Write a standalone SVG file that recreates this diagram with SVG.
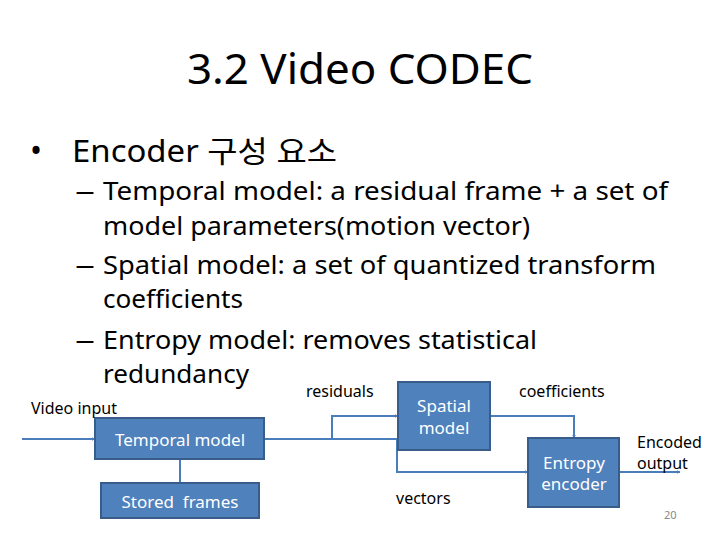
<svg xmlns="http://www.w3.org/2000/svg" width="720" height="540" viewBox="0 0 720 540">
<style>
text{font-family:"Noto Sans","Noto Sans CJK KR",sans-serif;fill:#000}
.t{font-size:24.8px}
.box{fill:#4F81BD;stroke:#385D8A;stroke-width:2}
.bt{font-size:17px;fill:#fff;text-anchor:middle}
.lb{font-size:16px}
.cn{fill:none;stroke:#4A7EBB;stroke-width:2}
</style>
<defs>
<marker id="ah" markerWidth="4" markerHeight="4" refX="3.5" refY="2" orient="auto" markerUnits="userSpaceOnUse">
<path d="M0,0 L4,2 L0,4 Z" fill="#4A7EBB"/>
</marker>
</defs>
<rect width="720" height="540" fill="#fff"/>
<text x="360" y="84" font-size="42" text-anchor="middle" textLength="346" lengthAdjust="spacingAndGlyphs">3.2 Video CODEC</text>
<text x="30" y="162" font-size="32">•</text>
<text x="72" y="162" font-size="30" textLength="265" lengthAdjust="spacingAndGlyphs">Encoder 구성 요소</text>
<text class="t" x="75" y="200" textLength="20" lengthAdjust="spacingAndGlyphs">–</text>
<text class="t" x="103" y="200" textLength="565" lengthAdjust="spacingAndGlyphs">Temporal model: a residual frame + a set of</text>
<text class="t" x="103" y="235" textLength="427" lengthAdjust="spacingAndGlyphs">model parameters(motion vector)</text>
<text class="t" x="75" y="274" textLength="20" lengthAdjust="spacingAndGlyphs">–</text>
<text class="t" x="103" y="274" textLength="553" lengthAdjust="spacingAndGlyphs">Spatial model: a set of quantized transform</text>
<text class="t" x="103" y="308" textLength="140" lengthAdjust="spacingAndGlyphs">coefficients</text>
<text class="t" x="75" y="349" textLength="20" lengthAdjust="spacingAndGlyphs">–</text>
<text class="t" x="103" y="349" textLength="434" lengthAdjust="spacingAndGlyphs">Entropy model: removes statistical</text>
<text class="t" x="103" y="383" textLength="146" lengthAdjust="spacingAndGlyphs">redundancy</text>
<g id="connectors">
<path class="cn" d="M22,439 H95" marker-end="url(#ah)"/>
<path class="cn" d="M180,459 V483"/>
<path class="cn" d="M264,439 H397 V472 H528" marker-end="url(#ah)"/>
<path class="cn" d="M332,439 V416 H398" marker-end="url(#ah)"/>
<path class="cn" d="M490,416 H574 V438" marker-end="url(#ah)"/>
<path class="cn" d="M619,472 H680" marker-end="url(#ah)"/>
</g>
<g id="temporal"><rect class="box" x="95" y="418" width="169" height="41"/><text class="bt" x="180" y="446">Temporal model</text></g>
<g id="stored"><rect class="box" x="101" y="483" width="158" height="35"/><text class="bt" x="180" y="508" xml:space="preserve">Stored  frames</text></g>
<g id="spatial"><rect class="box" x="398" y="382" width="92" height="68"/><text class="bt" x="444" y="412">Spatial</text><text class="bt" x="444" y="434">model</text></g>
<g id="entropy"><rect class="box" x="528" y="438" width="91" height="69"/><text class="bt" x="574" y="469">Entropy</text><text class="bt" x="574" y="490">encoder</text></g>
<text class="lb" x="31" y="414">Video input</text>
<text class="lb" x="306" y="397">residuals</text>
<text class="lb" x="519" y="397">coefficients</text>
<text class="lb" x="396" y="504">vectors</text>
<text class="lb" x="637" y="448">Encoded</text>
<text class="lb" x="637" y="469">output</text>
<text x="664" y="519" font-size="11" style="fill:#888">20</text>
</svg>
